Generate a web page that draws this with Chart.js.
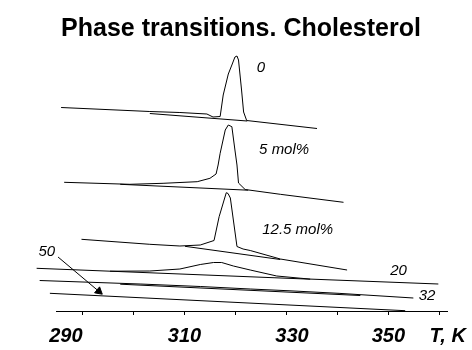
<!DOCTYPE html>
<html><head><meta charset="utf-8">
<script src="https://cdn.jsdelivr.net/npm/chart.js@4/dist/chart.umd.min.js"></script>
<style>html,body{margin:0;padding:0;background:#fff;}canvas{display:block;}</style>
</head><body>
<canvas id="c" width="472" height="350"></canvas>
<script>
// Temperature axis (K)
const tickValues = [290, 310, 330, 350, 360];
const tickTexts  = ['290      ', '310', '  330', '350', '   T, K'];

// DSC thermograms (T in K, heat flow in arbitrary stacked units)
const t0  = [285.8, 303.2, 309.1, 314.4, 315.6, 317.0, 317.6, 318.6, 319.3, 319.9, 320.3, 320.6, 321.2, 321.6, 322.2, 336.0];
const v0  = [20.35, 19.95, 19.85, 19.7, 19.4, 19.45, 21.6, 23.7, 24.6, 25.4, 25.5, 25.1, 22.1, 19.9, 19.05, 18.25];
const tb0 = [303.2, 322.3];
const vb0 = [19.75, 19.0];

const t5  = [286.4, 299.3, 305.8, 312.5, 315.0, 316.2, 316.6, 317.0, 318.0, 318.6, 319.3, 319.9, 320.3, 320.6, 321.9, 328.8, 341.2];
const v5  = [12.87, 12.67, 12.77, 12.93, 13.27, 13.7, 14.6, 15.77, 18.1, 18.6, 18.43, 16.1, 14.6, 12.8, 12.15, 11.67, 10.87];
const tb5 = [297.4, 322.5];
const vb5 = [12.67, 12.08];

const t12  = [289.8, 303.2, 309.1, 313.1, 315.8, 316.8, 318.2, 318.55, 319.0, 320.3, 321.5, 322.9, 328.8, 341.9];
const v12  = [7.17, 6.67, 6.5, 6.6, 7.05, 9.43, 11.83, 11.75, 11.3, 6.45, 6.2, 6.05, 5.2, 4.1];
const tb12 = [310.1, 328.8];
const vb12 = [6.47, 5.15];

const t20  = [281.0, 295.4, 303.2, 309.1, 313.1, 315.7, 317.3, 319.6, 322.9, 328.1, 332.7, 334.7, 359.8];
const v20  = [4.27, 3.98, 4.0, 4.2, 4.65, 4.85, 4.85, 4.5, 4.1, 3.5, 3.28, 3.19, 2.7];
const tb20 = [295.4, 334.7];
const vb20 = [3.98, 3.18];

const t32  = [281.6, 301.3, 313.1, 322.9, 330.7, 340.5, 354.9];
const v32  = [3.05, 2.7, 2.45, 2.2, 2.02, 1.76, 1.3];
const tb32 = [297.4, 344.5];
const vb32 = [2.68, 1.55];

const t50 = [283.6, 353.3];
const v50 = [1.77, 0.03];

// Arrow pointing to the 50 mol% curve
const tArrow = [285.2, 293.2];
const vArrow = [5.4, 1.97];

// Curve labels
const labelTexts = ['0', '5 mol%', '12.5 mol%', '20', '32', '50'];
const labelT     = [325.0, 329.55, 332.2, 352.0, 357.6, 283.0];
const labelV     = [24.3, 16.1, 8.1, 4.05, 1.5, 5.95];

const zip = (xs, ys) => xs.map((x, i) => ({x: x, y: ys[i]}));
const line = (xs, ys) => ({
  data: zip(xs, ys), borderColor: '#000', borderWidth: 1, pointRadius: 0,
  tension: 0, fill: false, clip: false
});

const datasets = [
  line(t0, v0), line(tb0, vb0),
  line(t5, v5), line(tb5, vb5),
  line(t12, v12), line(tb12, vb12),
  line(t20, v20), line(tb20, vb20),
  line(t32, v32), line(tb32, vb32),
  line(t50, v50),
  Object.assign(line(tArrow, vArrow), {
    pointRadius: [0, 4.5], pointStyle: 'triangle', rotation: 130,
    pointBackgroundColor: '#000', pointBorderColor: '#000', pointBorderWidth: 1
  })
];

const curveLabels = {
  id: 'curveLabels',
  afterDatasetsDraw(chart) {
    const {ctx, scales: {x, y}} = chart;
    ctx.save();
    ctx.fillStyle = '#000';
    ctx.font = 'italic 15px "Liberation Sans", Arial, sans-serif';
    ctx.textAlign = 'center';
    ctx.textBaseline = 'middle';
    labelTexts.forEach((s, i) => {
      ctx.fillText(s, x.getPixelForValue(labelT[i]), y.getPixelForValue(labelV[i]));
    });
    ctx.restore();
  }
};

const whiteBg = {
  id: 'whiteBg',
  beforeDraw(chart) {
    const ctx = chart.ctx;
    ctx.save(); ctx.fillStyle = '#fff';
    ctx.fillRect(0, 0, chart.width, chart.height);
    ctx.restore();
  }
};

const hiddenAxis = (pos, w) => ({
  type: 'linear', position: pos, display: true, min: 0, max: 26,
  ticks: {display: false}, grid: {display: false}, border: {display: false},
  afterFit: (s) => { s.width = w; }
});

new Chart(document.getElementById('c'), {
  type: 'line',
  data: {datasets: datasets},
  options: {
    responsive: false, animation: false,
    layout: {padding: {left: 10, right: 0, top: 0, bottom: 2}},
    plugins: {
      legend: {display: false},
      tooltip: {enabled: false},
      title: {
        display: true, text: 'Phase transitions. Cholesterol', color: '#000',
        font: {family: '"Liberation Sans", Arial, sans-serif', size: 25, weight: 'bold'},
        padding: {top: 14, bottom: 7}
      }
    },
    scales: {
      x: {
        type: 'linear', min: 284.8, max: 361.5,
        border: {display: true, color: '#000', width: 1},
        grid: {display: true, drawOnChartArea: false, drawTicks: true, tickLength: 4, color: '#000', lineWidth: 1},
        ticks: {
          stepSize: 10, includeBounds: false, autoSkip: false, maxRotation: 0, minRotation: 0,
          color: '#000', padding: 9,
          font: {family: '"Liberation Sans", Arial, sans-serif', size: 20, style: 'italic', weight: 'bold'},
          callback: (v) => { const i = tickValues.indexOf(Math.round(v)); return i < 0 ? '' : tickTexts[i]; }
        },
        afterFit: (s) => { s.height = 37; s.paddingLeft = 0; s.paddingRight = 0; }
      },
      y: hiddenAxis('left', 46),
      y2: hiddenAxis('right', 25)
    }
  },
  plugins: [whiteBg, curveLabels]
});
</script>
</body></html>
